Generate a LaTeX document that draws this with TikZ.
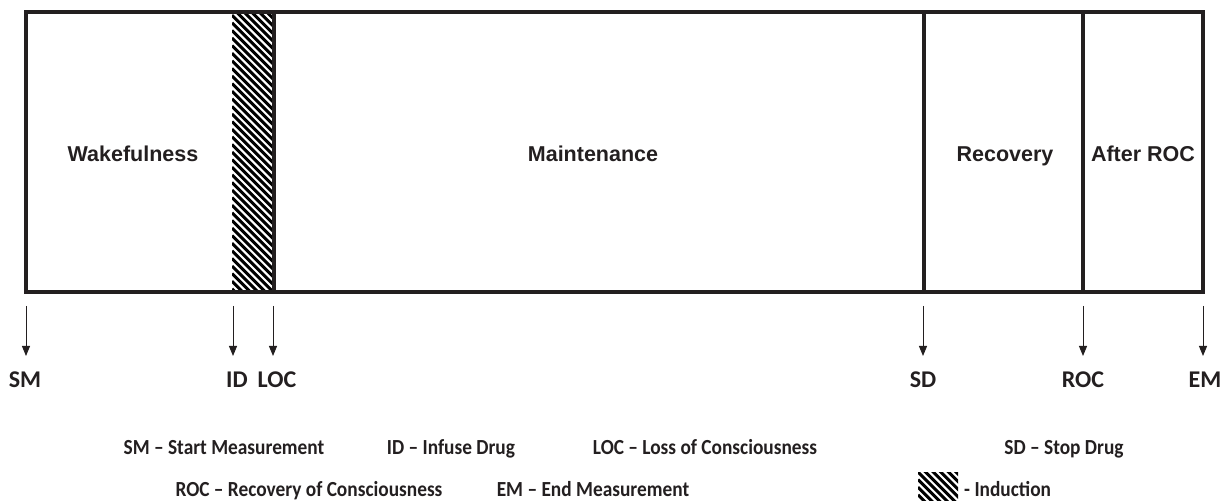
\documentclass[tikz,border=0pt]{standalone}
\usepackage{fontspec}
\setmainfont{Carlito}
\newfontfamily\phasefont{Liberation Sans}
\newfontfamily\legendfont[FakeStretch=0.9]{Carlito}
\usetikzlibrary{arrows.meta}
\definecolor{ink}{HTML}{231F20}
\tikzset{
  frame/.style={draw=ink, line width=4pt},
  marker/.style={draw=ink, line width=1pt, -{Triangle[length=10pt,width=8pt]}},
  phase/.style={font=\phasefont\bfseries\fontsize{21.5}{25}\selectfont, text=ink, anchor=base, inner sep=0pt},
  tick/.style={font=\bfseries\fontsize{24}{28}\selectfont, text=ink, anchor=base, inner sep=0pt},
  legend/.style={font=\legendfont\bfseries\fontsize{21.5}{25}\selectfont, text=ink, anchor=base, inner sep=0pt},
  hatchline/.style={line width=3pt, black}
}
\begin{document}
\begin{tikzpicture}[x=1pt,y=-1pt]
\useasboundingbox (0,0) rectangle (1223,502);
% hatched induction band
\begin{scope}
  \clip (232,12) rectangle (274,292);
  \foreach \k in {-7,...,38}{
    \draw[hatchline] (232,{\k*7.6}) -- ++(60,60);
  }
\end{scope}
% outer frame and dividers
\coordinate (tl) at (26,12);
\coordinate (br) at (1203,292);
\draw[frame] (tl) rectangle (br);
\draw[frame] (274,12) -- (274,292);
\draw[frame] (924,12) -- (924,292);
\draw[frame] (1083,12) -- (1083,292);
% phase labels
\node[phase] (wake) at (133,162) {Wakefulness};
\node[phase] (maint) at (593,162) {Maintenance};
\node[phase] (rec) at (1005,162) {Recovery};
\node[phase] (after) at (1143,162) {After ROC};
% markers
\foreach \n/\x/\t/\lx in {sm/26/SM/25, id/233/ID/237, loc/273/LOC/277, sd/923/SD/923, roc/1083/ROC/1083, em/1203/EM/1205}{
  \coordinate (\n top) at (\x,306);
  \coordinate (\n tip) at (\x,356);
  \draw[marker] (\n top) -- (\n tip);
  \node[tick] (\n lab) at (\lx,388) {\t};
}
% legend
\node[legend] (lsm) at (224,454) {SM – Start Measurement};
\node[legend] (lid) at (451,454) {ID – Infuse Drug};
\node[legend] (lloc) at (705,454) {LOC – Loss of Consciousness};
\node[legend] (lsd) at (1064,454) {SD – Stop Drug};
\node[legend] (lroc) at (309,496) {ROC – Recovery of Consciousness};
\node[legend] (lem) at (593,496) {EM – End Measurement};
\begin{scope}
  \clip (918,472) rectangle (958,500);
  \foreach \k in {-6,...,4}{
    \draw[hatchline] (918,{472+\k*7.6}) -- ++(60,60);
  }
\end{scope}
\node[legend, anchor=base west] (lind) at (964,496) {- Induction};
\end{tikzpicture}
\end{document}
